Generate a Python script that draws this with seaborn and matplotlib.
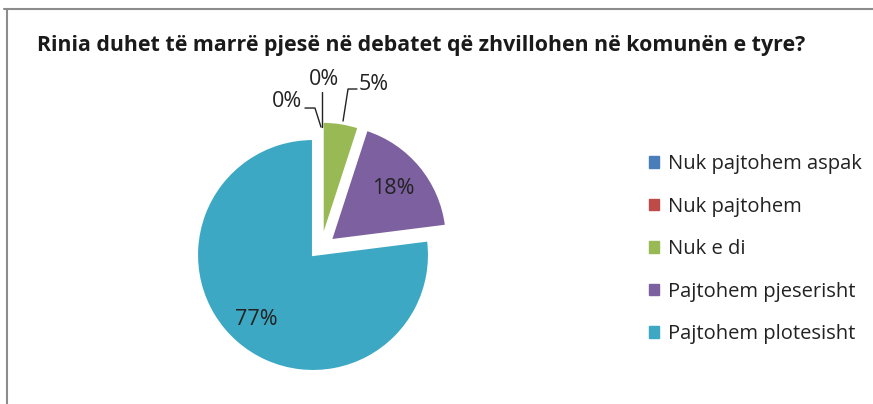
import matplotlib
matplotlib.use("Agg")
import matplotlib.pyplot as plt
import seaborn as sns
import numpy as np
from matplotlib.lines import Line2D

sns.set_style("white")
plt.rcParams['font.family'] = ['Open Sans', 'DejaVu Sans']

title = "Rinia duhet të marrë pjesë në debatet që zhvillohen në komunën e tyre?"
categories = ["Nuk pajtohem aspak", "Nuk pajtohem", "Nuk e di",
              "Pajtohem pjeserisht", "Pajtohem plotesisht"]
values = [0, 0, 5, 18, 77]
labels = ["0%", "0%", "5%", "18%", "77%"]
colors = ["#4a7ebb", "#be4b48", "#98b954", "#7d60a0", "#3ca8c4"]
explode = [0.12, 0.12, 0.15, 0.2, 0.0]

W, H = 873, 404
fig = plt.figure(figsize=(W / 100, H / 100), dpi=100)

R = 116.0          # pie radius in px
cx, cy = 313.0, 255.0
xl = (-1.4, 1.4)
yl = (-1.2, 1.6)
aw = (xl[1] - xl[0]) * R
ah = (yl[1] - yl[0]) * R
left = cx + xl[0] * R
top = cy - yl[1] * R
ax = fig.add_axes([left / W, (H - top - ah) / H, aw / W, ah / H])

wedges, _ = ax.pie(values, colors=colors, startangle=90, counterclock=False,
                   explode=explode, radius=1.0,
                   wedgeprops=dict(edgecolor="white", linewidth=1.5))
# Excel pushes the small green slice a little further to the right
gx, gy = wedges[2].center
wedges[2].set_center((gx + 0.06, gy))
ax.set_xlim(*xl)
ax.set_ylim(*yl)
ax.set_aspect("equal")
ax.axis("off")

# inside labels
ang = np.cumsum([0] + values)
def mid(i):
    a = 90 - 360 * (ang[i] + ang[i + 1]) / 200.0
    return np.deg2rad(a)

fs = 15.5
inner_r = {3: 0.70, 4: 0.74}
for i in (3, 4):
    a = mid(i)
    r = inner_r[i] + explode[i]
    ax.text(r * np.cos(a), r * np.sin(a), labels[i], ha="center", va="center",
            fontsize=fs, color="#222222")

# outside labels with leader lines (Excel style)
lbl_pos = {0: (-0.22, 1.32), 1: (0.095, 1.51), 2: (0.526, 1.466)}
leaders = {
    0: [(-0.069, 1.267), (0.017, 1.267), (0.069, 1.103)],
    1: [(0.078, 1.405), (0.078, 1.103)],
    2: [(0.379, 1.431), (0.302, 1.431), (0.259, 1.155)],
}
for i, (tx, ty) in lbl_pos.items():
    ax.text(tx, ty, labels[i], ha="center", va="center", fontsize=fs,
            color="#222222")
    xs, ys = zip(*leaders[i])
    ax.plot(xs, ys, color="#222222", lw=1.0)

# title
fig.text(37 / W, 1 - 45 / H, title, fontsize=15.4, fontweight="bold",
         ha="left", va="center", color="#1a1a1a")

# legend
handles = [plt.Rectangle((0, 0), 1, 1, color=c) for c in colors]
leg = fig.legend(handles, categories, loc="upper left",
                 bbox_to_anchor=(641 / W, 1 - 146 / H), frameon=False,
                 fontsize=14.5, handlelength=0.5, handleheight=0.5,
                 handletextpad=0.45, labelspacing=1.12, borderaxespad=0)
for t in leg.get_texts():
    t.set_color("#222222")

# chart frame (top and left edges visible)
fig.add_artist(Line2D([4 / W, 1], [1 - 9 / H, 1 - 9 / H], color="#8c8c8c",
                      lw=1.5, transform=fig.transFigure))
fig.add_artist(Line2D([6.5 / W, 6.5 / W], [0, 1 - 9 / H], color="#8c8c8c",
                      lw=1.5, transform=fig.transFigure))

fig.savefig("out.png", dpi=100, facecolor="white")
